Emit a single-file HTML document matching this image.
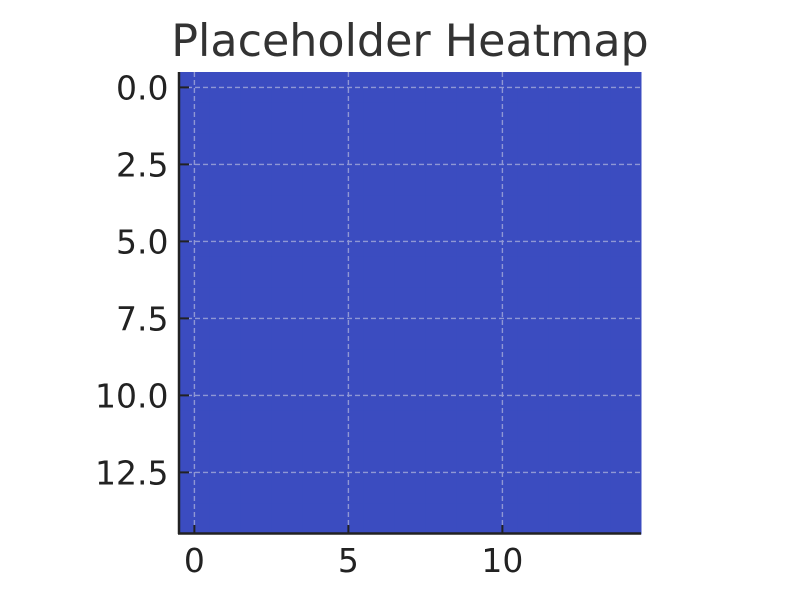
<!DOCTYPE html>
<html><head><meta charset="utf-8"><style>body{margin:0;background:#fff}svg{display:block}</style></head>
<body>
<svg id="chart" width="800" height="600" xmlns="http://www.w3.org/2000/svg" font-family="'DejaVu Sans','Liberation Sans',sans-serif">
<text x="410" y="56" text-anchor="middle" font-size="44.4" fill="#333">Placeholder Heatmap</text>
<g id="cells"></g><g id="grid"></g><g id="ticks"></g>
<line x1="179" y1="72" x2="179" y2="534" stroke="#222" stroke-width="2.5"/>
<line x1="178" y1="533.5" x2="641" y2="533.5" stroke="#222" stroke-width="2.5"/>
</svg>
<script>
const nRows = 15;
const nCols = 15;
const cellValues = Array(225).fill(0);
const xTicks = [0, 5, 10];
const xTickLabels = ["0", "5", "10"];
const yTicks = [0, 2.5, 5, 7.5, 10, 12.5];
const yTickLabels = ["0.0", "2.5", "5.0", "7.5", "10.0", "12.5"];
const NS = "http://www.w3.org/2000/svg";
const L = 179, R = 641, T = 72, B = 534;
const sx = v => L + (v + 0.5) / nCols * (R - L);
const sy = v => T + (v + 0.5) / nRows * (B - T);
function color(v){ return "#3b4cc0"; }
function mk(tag, attrs, parent){const e=document.createElementNS(NS,tag);for(const k in attrs)e.setAttribute(k,attrs[k]);document.getElementById(parent).appendChild(e);return e;}
cellValues.forEach((v,i)=>{
  const r=Math.floor(i/nCols), c=i%nCols;
  const e=mk("rect",{x:sx(c-0.5),y:sy(r-0.5),width:sx(c+0.5)-sx(c-0.5)+0.5,height:sy(r+0.5)-sy(r-0.5)+0.5,fill:color(v)},"cells");
  
  
});
xTicks.forEach((t,i)=>{
  const g=mk("line",{x1:sx(t),x2:sx(t),y1:T,y2:B,stroke:"#8f97d4","stroke-width":1.4,"stroke-dasharray":"5,3"},"grid");
  
  
  const tk=mk("line",{x1:sx(t),x2:sx(t),y1:B,y2:B-9,stroke:"#222","stroke-width":2},"ticks");
  
  
  const lb=mk("text",{x:sx(t),y:572,"text-anchor":"middle","font-size":33,fill:"#222"},"ticks");
  lb.textContent=xTickLabels[i];
  
  
});
yTicks.forEach((t,i)=>{
  const g=mk("line",{x1:L,x2:R,y1:sy(t),y2:sy(t),stroke:"#8f97d4","stroke-width":1.4,"stroke-dasharray":"5,3"},"grid");
  
  
  const tk=mk("line",{x1:L,x2:L+10,y1:sy(t),y2:sy(t),stroke:"#222","stroke-width":2},"ticks");
  
  
  const lb=mk("text",{x:168.5,y:sy(t)+12,"text-anchor":"end","font-size":33,fill:"#222"},"ticks");
  lb.textContent=yTickLabels[i];
  
  
});
</script>
</body></html>
